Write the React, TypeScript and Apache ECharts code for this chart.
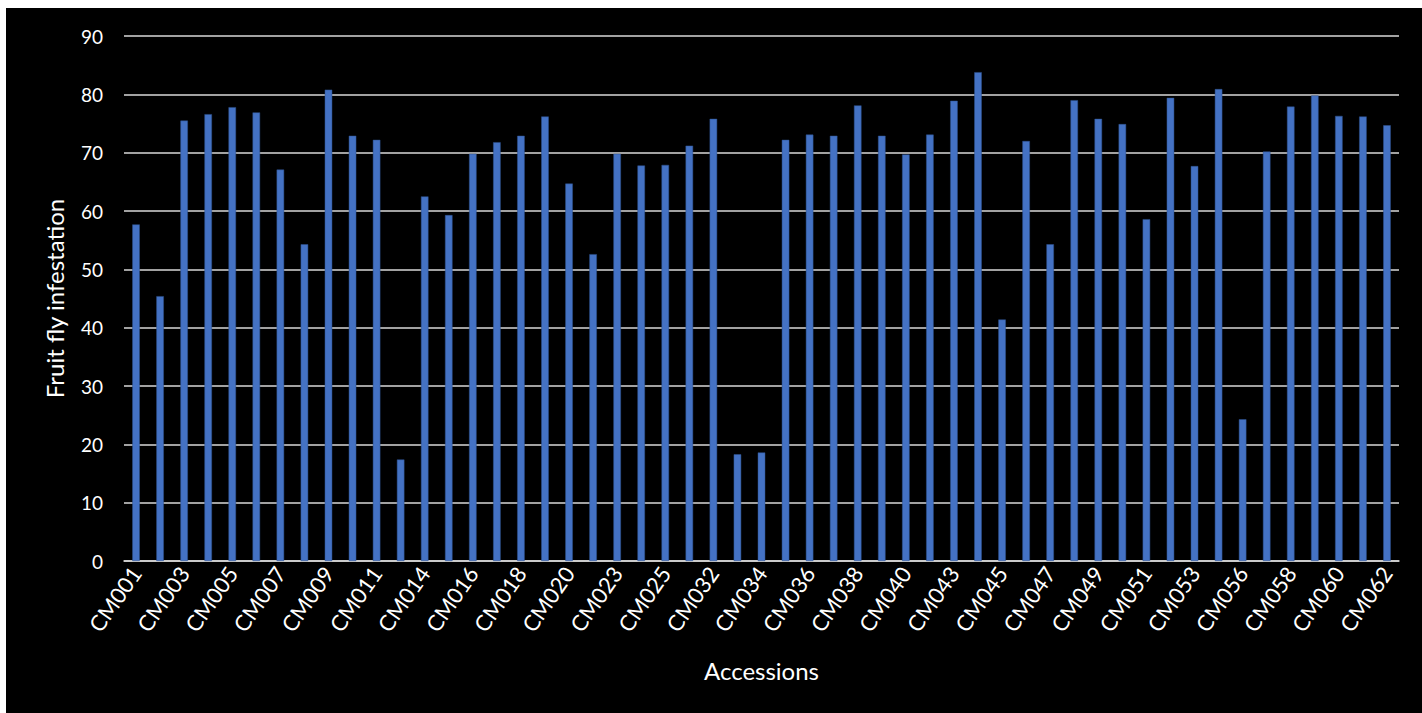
import React, { useEffect, useRef } from "react";
import * as echarts from "echarts";

const categories: string[] = [
  "CM001", "CM002", "CM003", "CM004", "CM005", "CM006", "CM007", "CM008", "CM009", "CM010",
  "CM011", "CM012", "CM014", "CM015", "CM016", "CM017", "CM018", "CM019", "CM020", "CM021",
  "CM023", "CM024", "CM025", "CM026", "CM032", "CM033", "CM034", "CM035", "CM036", "CM037",
  "CM038", "CM039", "CM040", "CM041", "CM043", "CM044", "CM045", "CM046", "CM047", "CM048",
  "CM049", "CM050", "CM051", "CM052", "CM053", "CM054", "CM056", "CM057", "CM058", "CM059",
  "CM060", "CM061", "CM062",
];

const infestation: number[] = [
  57.7, 45.4, 75.5, 76.6, 77.8, 76.9, 67.1, 54.3, 80.8, 72.9,
  72.2, 17.4, 62.5, 59.3, 69.8, 71.8, 72.9, 76.2, 64.7, 52.6,
  69.8, 67.8, 67.9, 71.2, 75.8, 18.3, 18.6, 72.2, 73.1, 72.9,
  78.1, 72.9, 69.7, 73.1, 78.9, 83.8, 41.4, 72.0, 54.3, 79.0,
  75.8, 74.9, 58.6, 79.4, 67.7, 80.9, 24.3, 70.2, 77.9, 79.8,
  76.3, 76.2, 74.7,
];

const yTicks = { min: 0, max: 90, interval: 10 };
const xTitle = "Accessions";
const yTitle = "Fruit fly infestation";

const FONT = "Lato, 'Open Sans', sans-serif";

export default function App() {
  const ref = useRef<HTMLDivElement>(null);
  useEffect(() => {
    if (!ref.current) return;
    const chart = echarts.init(ref.current, undefined, { renderer: "svg" });
    chart.setOption({
      animation: false,
      backgroundColor: "#000000",
      textStyle: { fontFamily: FONT },
      grid: { left: 118, right: 23, top: 28, bottom: 152, containLabel: false },
      xAxis: {
        type: "category",
        data: categories,
        name: xTitle,
        nameLocation: "middle",
        nameGap: 97,
        nameTextStyle: { color: "#ffffff", fontSize: 24, fontFamily: FONT },
        axisLine: { show: true, lineStyle: { color: "#d9d9d9", width: 1.5 } },
        axisTick: { show: false },
        axisLabel: {
          interval: 1,
          rotate: 55,
          hideOverlap: false,
          color: "#ffffff",
          fontSize: 22,
          fontFamily: FONT,
          margin: 8,
        },
      },
      yAxis: {
        type: "value",
        min: yTicks.min,
        max: yTicks.max,
        interval: yTicks.interval,
        name: yTitle,
        nameLocation: "middle",
        nameGap: 58,
        nameTextStyle: { color: "#ffffff", fontSize: 24, fontFamily: FONT },
        axisLine: { show: false },
        axisTick: { show: false },
        axisLabel: { color: "#ffffff", fontSize: 19, fontFamily: FONT, margin: 21 },
        splitLine: { show: true, lineStyle: { color: "#d9d9d9", width: 1.5 } },
      },
      series: [
        {
          type: "bar",
          data: infestation,
          barWidth: 7.5,
          itemStyle: { color: "#4472C4", borderColor: "#2F528F", borderWidth: 0.5 },
        },
      ],
    });
    return () => chart.dispose();
  }, []);
  return (
    <div
      ref={ref}
      style={{ position: "fixed", left: 6, top: 8, width: 1416, height: 705 }}
    />
  );
}
